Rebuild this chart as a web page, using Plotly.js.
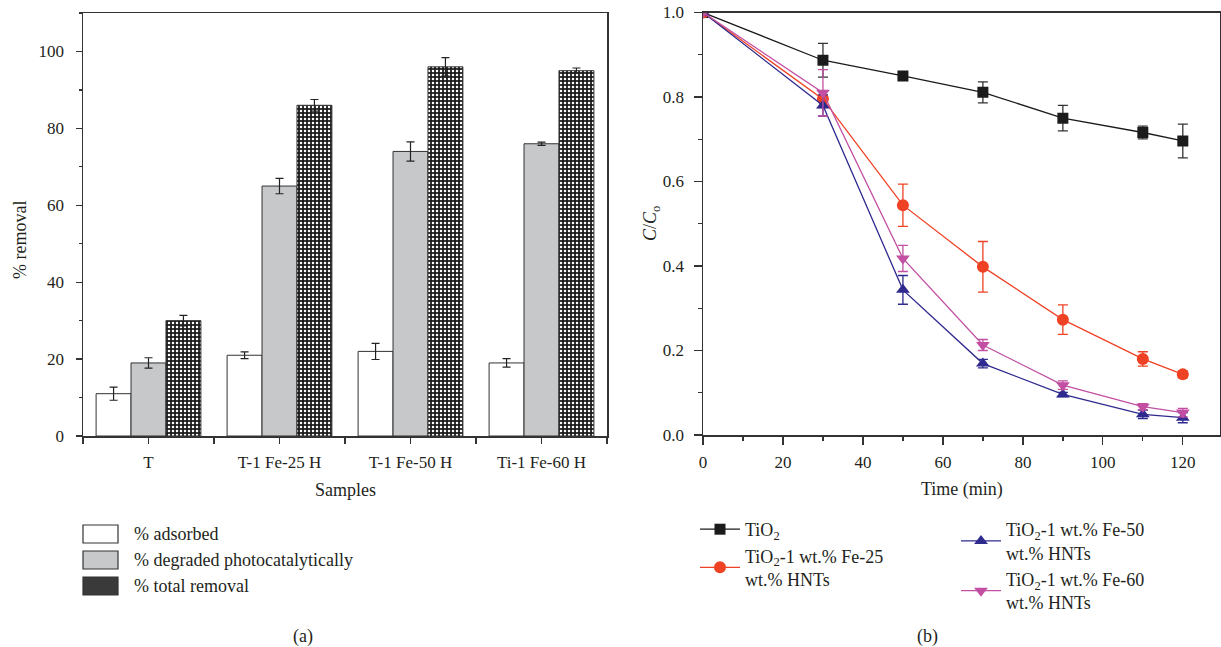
<!DOCTYPE html>
<html>
<head>
<meta charset="utf-8">
<script src="https://cdn.plot.ly/plotly-3.0.1.min.js"></script>
<style>html,body{margin:0;padding:0;background:#fff;}#chart{width:1221px;height:647px;}</style>
</head>
<body>
<div id="chart"></div>
<script>
// ---- Panel (a) data ----
const categories = ['T', 'T-1 Fe-25 H', 'T-1 Fe-50 H', 'Ti-1 Fe-60 H'];
const adsorbed = [11, 21, 22, 19];
const adsorbedErr = [1.7, 0.9, 2.1, 1.1];
const degraded = [19, 65, 74, 76];
const degradedErr = [1.35, 2.0, 2.5, 0.4];
const totalRemoval = [30, 86, 96, 95];
const totalRemovalErr = [1.35, 1.5, 2.4, 0.7];
const barNames = ['% adsorbed', '% degraded photocatalytically', '% total removal'];

// ---- Panel (b) data ----
const time = [0, 30, 50, 70, 90, 110, 120];
const tio2 = [1.0, 0.887, 0.85, 0.811, 0.75, 0.716, 0.696];
const tio2Err = [0, 0.04, 0.005, 0.025, 0.03, 0.015, 0.04];
const fe25 = [1.0, 0.795, 0.544, 0.398, 0.273, 0.180, 0.1435];
const fe25Err = [0, 0.02, 0.05, 0.06, 0.035, 0.017, 0.008];
const fe50 = [1.0, 0.78, 0.3435, 0.169, 0.096, 0.049, 0.041];
const fe50Err = [0, 0.025, 0.034, 0.01, 0.005, 0.01, 0.012];
const fe60 = [1.0, 0.81, 0.418, 0.213, 0.118, 0.067, 0.053];
const fe60Err = [0, 0.055, 0.031, 0.013, 0.01, 0.007, 0.01];
const lineNames = ['TiO<sub>2</sub>',
  'TiO<sub>2</sub>-1 wt.% Fe-25<br>wt.% HNTs',
  'TiO<sub>2</sub>-1 wt.% Fe-50<br>wt.% HNTs',
  'TiO<sub>2</sub>-1 wt.% Fe-60<br>wt.% HNTs'];

const W = 1221, H = 647;
const px = v => v / W;
const py = v => 1 - v / H;
const FONT = 'Liberation Serif, Times New Roman, serif';
const TXT = '#231f20';
const AX = '#333333';

const idx = categories.map((c, i) => i);
const bounds = idx.map(i => i - 0.5).concat([categories.length - 0.5]);

const barLine = {color: '#333', width: 1};
const barErr = arr => ({type: 'data', array: arr, visible: true, color: '#222', thickness: 1.2, width: 4});

const traces = [
  {type: 'bar', x: idx, y: adsorbed, name: barNames[0], xaxis: 'x', yaxis: 'y', showlegend: false,
   marker: {color: '#ffffff', line: barLine}, error_y: barErr(adsorbedErr)},
  {type: 'bar', x: idx, y: degraded, name: barNames[1], xaxis: 'x', yaxis: 'y', showlegend: false,
   marker: {color: '#c7c8ca', line: barLine}, error_y: barErr(degradedErr)},
  {type: 'bar', x: idx, y: totalRemoval, name: barNames[2], xaxis: 'x', yaxis: 'y', showlegend: false,
   marker: {color: '#1c1c1c', line: barLine,
            pattern: {shape: '.', fgcolor: '#ffffff', bgcolor: '#1c1c1c', size: 4, solidity: 0.3}},
   error_y: barErr(totalRemovalErr)}
];

const series = [
  {y: tio2, e: tio2Err, c: '#1b1b1b', ec: '#333333', sym: 'square', size: 11, legend: 'legend'},
  {y: fe25, e: fe25Err, c: '#ef4123', ec: '#ef4123', sym: 'circle', size: 12, legend: 'legend'},
  {y: fe50, e: fe50Err, c: '#2e2a8e', ec: '#2e2a8e', sym: 'triangle-up', size: 12, legend: 'legend2'},
  {y: fe60, e: fe60Err, c: '#c24fa2', ec: '#c24fa2', sym: 'triangle-down', size: 12, legend: 'legend2'}
];
series.forEach((s, i) => {
  traces.push({
    type: 'scatter', mode: 'lines+markers', x: time, y: s.y, name: lineNames[i],
    xaxis: 'x2', yaxis: 'y2', legend: s.legend,
    line: {color: s.c, width: 1.3},
    marker: {color: s.c, symbol: s.sym, size: s.size},
    error_y: {type: 'data', array: s.e, visible: true, color: s.ec, thickness: 1.3, width: 5}
  });
});

const tickFont = {family: FONT, size: 17, color: TXT};
const textFont = {family: FONT, size: 18, color: TXT};

const layout = {
  width: W, height: H, autosize: false,
  margin: {l: 0, r: 0, t: 0, b: 0},
  paper_bgcolor: '#fff', plot_bgcolor: '#fff',
  font: {family: FONT, size: 17, color: TXT},
  barmode: 'group', bargap: 0.2, bargroupgap: 0,
  xaxis: {
    domain: [px(83), px(607)], anchor: 'y', range: [-0.5, categories.length - 0.5],
    tickmode: 'array', tickvals: idx, ticktext: categories,
    ticks: 'outside', ticklen: 6, tickwidth: 1.3, tickcolor: AX,
    minor: {tickmode: 'array', tickvals: bounds, ticks: 'outside', ticklen: 6, tickwidth: 1.3, tickcolor: AX},
    showline: true, linecolor: AX, linewidth: 1.5, mirror: true,
    showgrid: false, zeroline: false, tickfont: tickFont, ticklabelstandoff: 4
  },
  yaxis: {
    domain: [py(436), py(13)], anchor: 'x', range: [0, 110],
    tickmode: 'linear', tick0: 0, dtick: 20,
    ticks: 'outside', ticklen: 6, tickwidth: 1.3, tickcolor: AX,
    minor: {tick0: 0, dtick: 10, ticks: 'outside', ticklen: 3, tickwidth: 1.3, tickcolor: AX},
    showline: true, linecolor: AX, linewidth: 1.5, mirror: true,
    showgrid: false, zeroline: false, tickfont: tickFont, ticklabelstandoff: 8
  },
  xaxis2: {
    domain: [px(703), px(1220)], anchor: 'y2', range: [0, 129.3],
    tickmode: 'linear', tick0: 0, dtick: 20,
    ticks: 'outside', ticklen: 8, tickwidth: 1.3, tickcolor: AX,
    minor: {tick0: 0, dtick: 10, ticks: 'outside', ticklen: 4, tickwidth: 1.3, tickcolor: AX},
    showline: true, linecolor: AX, linewidth: 1.5, mirror: true,
    showgrid: false, zeroline: false, tickfont: tickFont, ticklabelstandoff: 3
  },
  xaxis3: {
    overlaying: 'x2', side: 'top', anchor: 'y2', range: [0, 129.3],
    tickmode: 'linear', tick0: 0, dtick: 10,
    ticks: 'inside', ticklen: 4, tickwidth: 1.2, tickcolor: AX,
    showticklabels: false, showline: false, showgrid: false, zeroline: false
  },
  yaxis2: {
    domain: [py(435), py(12.5)], anchor: 'x2', range: [0, 1.0],
    tickmode: 'linear', tick0: 0, dtick: 0.2, tickformat: '.1f',
    ticks: 'outside', ticklen: 8, tickwidth: 1.3, tickcolor: AX,
    minor: {tick0: 0, dtick: 0.1, ticks: 'outside', ticklen: 4, tickwidth: 1.3, tickcolor: AX},
    showline: true, linecolor: AX, linewidth: 1.5, mirror: true,
    showgrid: false, zeroline: false, tickfont: tickFont, ticklabelstandoff: 6
  },
  legend: {
    x: px(695), y: py(511), xanchor: 'left', yanchor: 'top',
    bgcolor: 'rgba(0,0,0,0)', borderwidth: 0, font: textFont,
    itemwidth: 40, tracegroupgap: 0, traceorder: 'normal'
  },
  legend2: {
    x: px(956), y: py(511), xanchor: 'left', yanchor: 'top',
    bgcolor: 'rgba(0,0,0,0)', borderwidth: 0, font: textFont,
    itemwidth: 40, tracegroupgap: 0, traceorder: 'normal'
  },
  shapes: [],
  annotations: []
};

// Panel (a) legend drawn with shapes + text
const legRows = [534, 560, 586];
const legFills = ['#ffffff', '#c7c8ca', '#3a3a3a'];
legRows.forEach((yc, i) => {
  layout.shapes.push({type: 'rect', xref: 'paper', yref: 'paper',
    x0: px(83), x1: px(118), y0: py(yc + 9), y1: py(yc - 9),
    fillcolor: legFills[i], line: {color: '#333', width: 1.2}});
  layout.annotations.push({xref: 'paper', yref: 'paper', x: px(132), y: py(yc),
    xanchor: 'left', yanchor: 'middle', showarrow: false, text: barNames[i],
    font: textFont});
});

// axis titles and panel labels
const ann = (x, y, text, angle) => ({xref: 'paper', yref: 'paper', x: px(x), y: py(y),
  xanchor: 'center', yanchor: 'middle', showarrow: false, text: text, textangle: angle || 0,
  font: textFont});
layout.annotations.push(ann(20, 240, '% removal', -90));
layout.annotations.push(ann(345, 490, 'Samples'));
layout.annotations.push(ann(651, 224, '<i>C</i>/<i>C</i><sub>o</sub>', -90));
layout.annotations.push(ann(962, 489, 'Time (min)'));
layout.annotations.push(ann(303, 636, '(a)'));
layout.annotations.push(ann(927, 636, '(b)'));

Plotly.newPlot('chart', traces, layout, {displayModeBar: false, staticPlot: true});
</script>
</body>
</html>
